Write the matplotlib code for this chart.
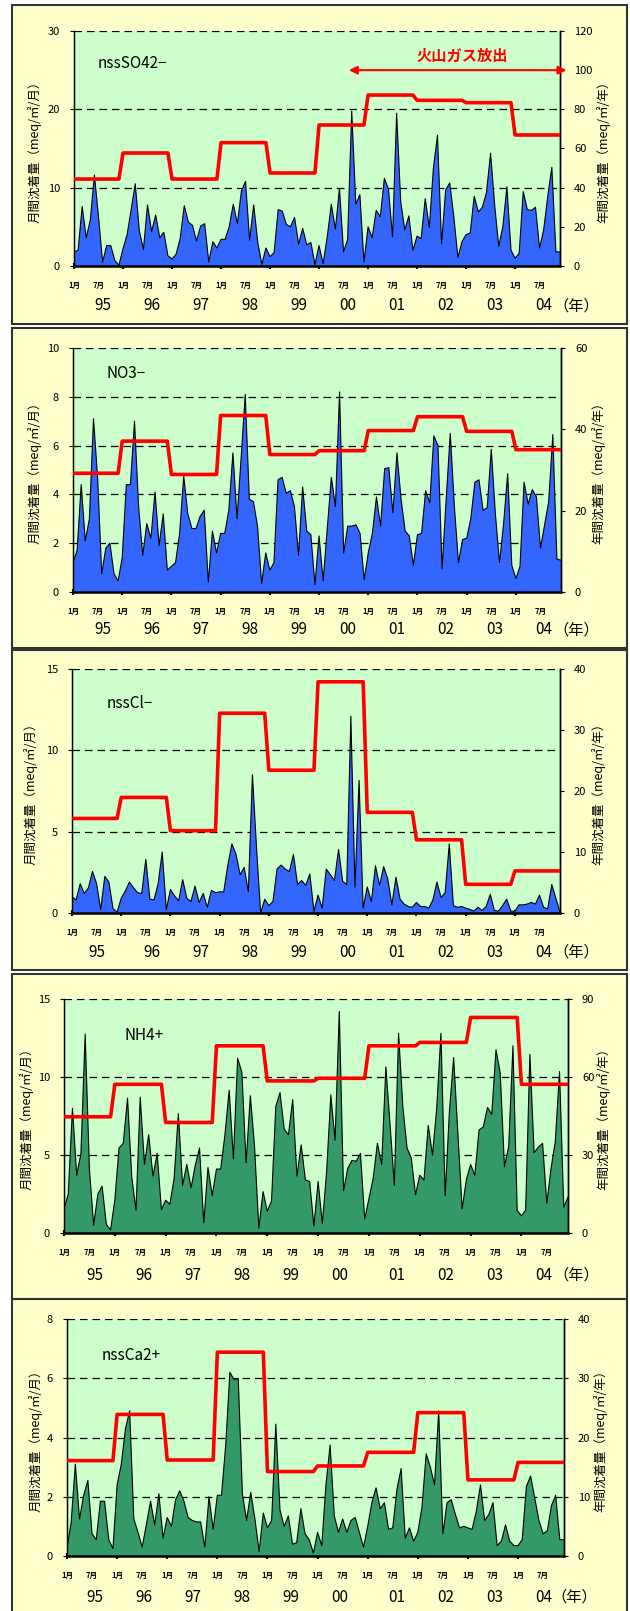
import numpy as np
import matplotlib
matplotlib.use("Agg")
import matplotlib.pyplot as plt
from matplotlib.patches import Rectangle

plt.rcParams['font.family'] = ['Noto Sans CJK JP', 'DejaVu Sans']

# ---------------- data ----------------
years = ["95", "96", "97", "98", "99", "00", "01", "02", "03", "04"]

so4_monthly = [
    1.8, 2.0, 7.6, 3.6, 5.9, 11.6, 6.3, 0.5, 2.6, 2.6, 0.7, 0.1,
    2.2, 4.0, 7.2, 10.5, 4.5, 2.1, 7.8, 4.4, 6.5, 3.6, 4.3, 1.3,
    0.9, 1.5, 3.5, 7.7, 5.6, 5.2, 3.2, 5.1, 5.4, 0.5, 3.1, 2.3,
    3.4, 3.4, 5.0, 7.9, 5.4, 9.6, 10.8, 3.3, 7.8, 3.0, 0.2, 2.3,
    1.2, 1.7, 7.2, 7.0, 5.3, 5.0, 6.2, 2.8, 4.8, 2.7, 3.0, 0.2,
    2.6, 0.3, 3.7, 7.9, 4.7, 9.9, 1.8, 3.4, 19.8, 7.9, 9.1, 0.5,
    5.0, 3.6, 7.1, 6.3, 11.2, 9.8, 3.7, 19.5, 8.2, 4.6, 6.4, 2.0,
    3.8, 3.5, 8.6, 4.9, 12.5, 16.7, 2.8, 9.7, 10.6, 6.3, 1.1, 3.1,
    4.0, 4.2, 8.9, 6.9, 7.5, 9.4, 14.4, 7.8, 2.5, 5.0, 10.1, 2.0,
    1.0, 1.6, 9.5, 7.2, 7.1, 7.5, 2.3, 4.6, 8.9, 12.6, 1.8, 1.8]
so4_annual = [44.4, 57.7, 44.4, 63.0, 47.5, 72.0, 87.3, 84.6, 83.4, 66.9]

no3_monthly = [
    1.2, 1.7, 4.4, 2.1, 3.0, 7.1, 4.7, 0.75, 1.8, 2.0, 0.75, 0.45,
    1.4, 4.4, 4.4, 7.0, 3.5, 1.5, 2.8, 2.2, 4.1, 1.9, 3.2, 0.9,
    1.05, 1.2, 2.4, 4.75, 3.2, 2.6, 2.6, 3.1, 3.35, 0.4, 2.5, 1.6,
    2.4, 2.4, 3.35, 5.7, 3.0, 5.5, 8.1, 3.8, 3.7, 2.7, 0.35, 1.6,
    0.9, 1.2, 4.6, 4.7, 4.05, 4.15, 3.5, 1.5, 4.3, 2.5, 2.35, 0.3,
    2.3, 0.45, 2.6, 4.7, 3.5, 8.2, 1.6, 2.7, 2.7, 2.75, 2.4, 0.5,
    1.6, 2.4, 3.9, 2.7, 5.05, 5.1, 3.25, 5.7, 3.8, 2.5, 2.3, 1.1,
    2.35, 2.4, 4.15, 3.65, 6.4, 6.0, 0.95, 3.8, 6.5, 3.5, 1.2, 2.15,
    2.2, 3.0, 4.5, 4.6, 3.35, 3.45, 5.85, 3.2, 1.2, 2.8, 4.85, 1.1,
    0.55, 1.05, 4.5, 3.6, 4.2, 3.9, 1.8, 2.75, 3.7, 6.45, 1.35, 1.3]
no3_annual = [29.2, 37.1, 28.9, 43.4, 33.8, 34.75, 39.7, 43.1, 39.5, 35.0]

cl_monthly = [
    1.0, 0.8, 1.8, 1.2, 1.55, 2.55, 1.8, 0.2, 2.25, 1.9, 0.27, 0.05,
    0.9, 1.35, 1.9, 1.55, 1.25, 1.2, 3.3, 0.85, 0.8, 1.8, 3.75, 0.2,
    1.45, 1.05, 0.75, 2.05, 0.9, 0.7, 1.65, 0.65, 1.2, 0.35, 1.4, 1.25,
    1.3, 1.3, 2.95, 4.25, 3.6, 2.35, 2.8, 1.3, 8.5, 4.0, 0.0, 0.85,
    0.45, 0.7, 2.7, 2.95, 2.7, 2.55, 3.6, 1.75, 2.0, 1.7, 2.4, 0.1,
    1.1, 0.3, 2.7, 2.35, 2.0, 3.9, 1.95, 1.75, 12.1, 1.6, 8.15, 0.3,
    1.6, 0.7, 2.9, 1.7, 2.85, 2.1, 0.5, 2.2, 0.85, 0.55, 0.4, 0.35,
    0.65, 0.4, 0.4, 0.3, 0.8, 1.9, 0.95, 1.25, 4.25, 0.45, 0.35, 0.4,
    0.3, 0.22, 0.12, 0.35, 0.15, 0.4, 1.15, 0.15, 0.12, 0.45, 0.85, 0.12,
    0.1, 0.5, 0.5, 0.55, 0.65, 0.55, 1.1, 0.35, 0.25, 1.75, 0.9, 0.05]
cl_annual = [15.5, 18.95, 13.5, 32.75, 23.4, 37.9, 16.5, 12.0, 4.7, 6.9]

nh4_monthly = [
    1.55, 2.5, 8.0, 3.7, 5.1, 12.75, 4.1, 0.5, 2.5, 3.0, 0.55, 0.2,
    2.1, 5.45, 5.75, 8.65, 3.6, 1.45, 8.7, 4.4, 6.3, 3.65, 5.1, 1.5,
    2.1, 1.85, 3.5, 7.65, 3.05, 4.4, 2.9, 4.35, 5.45, 0.65, 4.2, 2.4,
    4.1, 4.1, 6.3, 9.15, 4.75, 11.2, 10.3, 4.5, 8.8, 5.5, 0.3, 2.65,
    1.4, 2.05, 8.1, 9.0, 6.65, 6.3, 8.55, 3.65, 5.65, 3.4, 3.3, 0.45,
    3.3, 0.6, 3.9, 8.85, 5.95, 14.2, 2.7, 4.15, 4.65, 4.6, 5.1, 0.9,
    2.2, 3.5, 5.75, 4.4, 10.65, 6.9, 3.05, 12.8, 8.1, 5.45, 4.8, 2.45,
    3.7, 3.4, 6.9, 5.0, 8.0, 12.8, 2.4, 7.8, 11.25, 6.4, 1.55, 3.4,
    4.4, 3.7, 6.6, 6.8, 8.05, 7.6, 11.75, 10.25, 4.25, 5.55, 12.0, 1.45,
    1.1, 1.45, 11.45, 5.15, 5.5, 5.75, 1.9, 4.15, 5.85, 10.35, 1.65, 2.3]
nh4_annual = [44.7, 57.2, 42.5, 72.0, 58.5, 59.5, 72.0, 73.3, 82.9, 57.2]

ca_monthly = [
    0.25, 1.15, 3.1, 1.25, 2.05, 2.55, 0.75, 0.55, 1.85, 1.85, 0.55, 0.25,
    2.4, 3.1, 4.3, 4.9, 1.25, 0.8, 0.3, 1.05, 1.85, 1.05, 2.1, 0.6,
    1.3, 1.0, 1.9, 2.2, 1.85, 1.3, 1.2, 1.15, 1.15, 0.3, 2.0, 0.9,
    2.05, 2.05, 3.75, 6.2, 5.95, 6.0, 2.1, 1.2, 2.15, 1.25, 0.15, 1.45,
    0.95, 1.2, 4.45, 1.55, 1.0, 1.35, 0.4, 0.45, 1.6, 0.75, 0.55, 0.1,
    0.8, 0.35, 2.4, 3.75, 1.35, 0.8, 1.25, 0.8, 1.2, 1.3, 0.8, 0.3,
    1.0, 1.8, 2.3, 1.6, 1.8, 0.9, 0.95, 2.25, 2.95, 0.6, 0.95, 0.5,
    0.8, 1.65, 3.45, 3.0, 2.4, 4.9, 0.75, 1.8, 1.9, 1.4, 0.95, 1.0,
    0.95, 0.9, 1.5, 2.4, 1.2, 1.4, 1.8, 0.35, 0.5, 1.05, 0.5, 0.35,
    0.35, 0.55, 2.35, 2.7, 1.95, 1.2, 0.75, 0.85, 1.7, 2.05, 0.55, 0.55]
ca_annual = [16.1, 23.9, 16.2, 34.4, 14.25, 15.2, 17.5, 24.2, 12.85, 15.8]

species = ["nssSO42−", "NO3−", "nssCl−", "NH4+", "nssCa2+"]
left_ticks = [[0, 10, 20, 30], [0, 2, 4, 6, 8, 10], [0, 5, 10, 15],
              [0, 5, 10, 15], [0, 2, 4, 6, 8]]
right_ticks = [[0, 20, 40, 60, 80, 100, 120], [0, 20, 40, 60],
               [0, 10, 20, 30, 40], [0, 30, 60, 90], [0, 10, 20, 30, 40]]
monthly_sets = [so4_monthly, no3_monthly, cl_monthly, nh4_monthly, ca_monthly]
annual_sets = [so4_annual, no3_annual, cl_annual, nh4_annual, ca_annual]
fill_colors = ["#3366FF", "#3366FF", "#3366FF", "#339966", "#339966"]

left_label = "月間沈着量（meq/㎡/月）"
right_label = "年間沈着量（meq/㎡/年）"
gas_label = "火山ガス放出"
year_unit = "（年）"

# ---------------- layout (pixels) ----------------
W, H = 630, 1611
fig = plt.figure(figsize=(W / 100, H / 100), dpi=100)
fig.patch.set_facecolor("white")

boxes = [(12, 5, 627, 324), (12, 328, 627, 648), (12, 650, 627, 970),
         (12, 974, 627, 1299), (12, 1299, 627, 1625)]
axes_px = [(74, 31, 560, 266), (73, 348, 561, 592), (72, 669, 560, 913),
           (64, 999, 568, 1233), (67, 1319, 564, 1556)]
name_px = [(98, 63), (107, 373), (107, 704), (124, 1035), (102, 1355)]
ylab_lx = [35, 35, 31, 27, 36]
ylab_rx = [603, 598, 598, 603, 600]
year_off = [40, 38, 39, 42, 41]
year_x_px = [
    [103, 152, 201, 250, 299, 348, 397, 446, 495, 544],
    [103, 152, 201, 250, 299, 348, 397, 446, 495, 544],
    [97, 152, 201, 250, 299, 348, 397, 446, 495, 544],
    [95, 144, 193, 242, 291, 340, 397, 446, 495, 544],
    [95, 144, 193, 242, 291, 340, 397, 446, 495, 544]]
unit_px = [576, 576, 576, 576, 574]

x = np.arange(120)

for k in range(5):
    bx0, by0, bx1, by1 = boxes[k]
    fig.add_artist(Rectangle((bx0 / W, 1 - by1 / H), (bx1 - bx0) / W, (by1 - by0) / H,
                             transform=fig.transFigure, facecolor="#FFFFCC",
                             edgecolor="#333333", lw=1.5, zorder=0))
    x0, y0, x1, y1 = axes_px[k]
    hpx = y1 - y0
    ax = fig.add_axes([x0 / W, 1 - y1 / H, (x1 - x0) / W, hpx / H])
    ax.set_facecolor("#CCFFCC")
    vals = np.array(monthly_sets[k])
    ax.fill_between(x, 0, vals, facecolor=fill_colors[k], lw=0, zorder=2)
    ax.plot(x, vals, color="black", lw=0.8, zorder=3)
    lt = left_ticks[k]
    ax.set_ylim(lt[0], lt[-1])
    ax.set_xlim(0, 119)
    for t in lt[1:]:
        ax.axhline(t, color="black", lw=0.9, ls=(0, (6, 4)), zorder=1)
    ax.set_yticks(lt)
    ax.tick_params(axis="y", labelsize=8, length=3, pad=7)
    ax.set_xticks(np.arange(0, 120, 12))
    ax.set_xticklabels(["1月"] * 10, fontweight="bold")
    ax.set_xticks(np.arange(6, 120, 12), minor=True)
    ax.set_xticklabels(["7月"] * 10, minor=True, fontweight="bold")
    ax.tick_params(axis="x", which="major", labelsize=5.5, length=4, width=1.5,
                   direction="inout", pad=9)
    ax.tick_params(axis="x", which="minor", labelsize=5.5, length=0, pad=11)
    for sp in ["left", "right"]:
        ax.spines[sp].set_linewidth(1.0)
    ax.spines["bottom"].set_linewidth(1.8)
    ax.spines["top"].set_visible(False)

    ax2 = ax.twinx()
    rt = right_ticks[k]
    ax2.set_ylim(rt[0], rt[-1])
    ax2.set_yticks(rt)
    ax2.tick_params(axis="y", labelsize=8, length=3, pad=7)
    ax2.plot(x, np.repeat(annual_sets[k], 12), color="red", lw=2.6, zorder=4)
    ax2.spines["top"].set_visible(False)
    ax2.spines["right"].set_linewidth(1.0)

    yy = 1 - (y1 + year_off[k]) / H
    for i, yl in enumerate(years):
        fig.text(year_x_px[k][i] / W, yy, yl, ha="center", va="center", fontsize=11)
    fig.text(unit_px[k] / W, yy, year_unit, ha="center", va="center", fontsize=11)

    nx, ny = name_px[k]
    fig.text(nx / W, 1 - ny / H, species[k], fontsize=11, ha="left", va="center")
    cy = 1 - (y0 + y1) / 2 / H
    fig.text(ylab_lx[k] / W, cy, left_label, rotation=90, fontsize=9,
             ha="center", va="center")
    fig.text(ylab_rx[k] / W, cy, right_label, rotation=90, fontsize=9,
             ha="center", va="center")

    if k == 0:
        ax2.annotate("", xy=(120.6, 100), xytext=(67.3, 100),
                     arrowprops=dict(arrowstyle="<|-|>", color="red", lw=1.5,
                                     mutation_scale=12, shrinkA=0, shrinkB=0),
                     annotation_clip=False, zorder=5)
        ax2.text(95, 107.5, gas_label, color="red", fontsize=11, ha="center",
                 va="center", fontweight="bold")

fig.savefig("out.png", dpi=100)
